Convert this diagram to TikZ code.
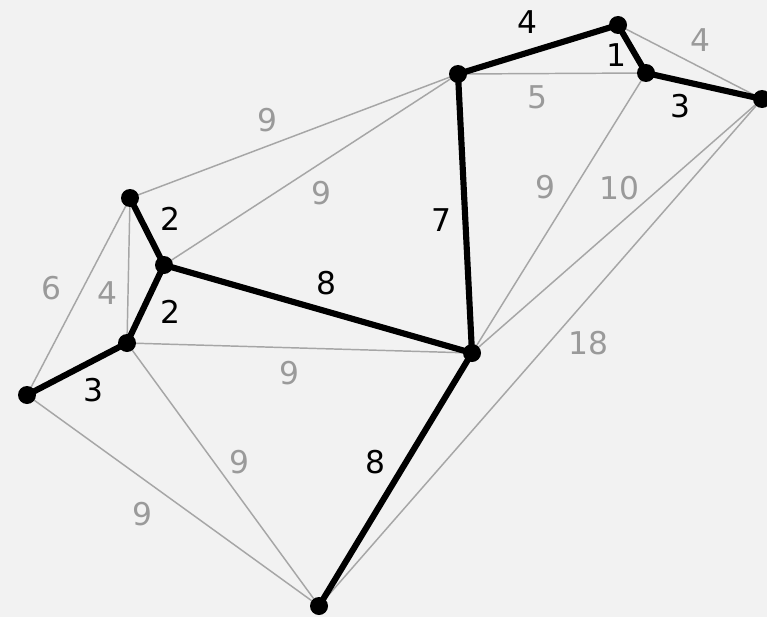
\documentclass[tikz,border=0pt]{standalone}
\usepackage{fontspec}
\setmainfont{DejaVu Sans}
\usetikzlibrary{backgrounds}
\definecolor{bg}{HTML}{F2F2F2}
\definecolor{edgegray}{HTML}{A6A6A6}
\definecolor{labgray}{HTML}{9A9A9A}
\tikzset{
  vert/.style={circle,fill=black,inner sep=0pt,minimum size=13.5pt},
  thin edge/.style={draw=edgegray,line width=1.1pt},
  tree edge/.style={draw=black,line width=4.6pt},
  glab/.style={text=labgray,font=\fontsize{23.5}{28}\selectfont,inner sep=0pt},
  blab/.style={text=black,font=\fontsize{23.5}{28}\selectfont,inner sep=0pt}
}
\begin{document}
\begin{tikzpicture}[x=0.75pt,y=-0.75pt]
\useasboundingbox (0,0) rectangle (767,617);
\clip (0,0) rectangle (767,617);
% vertices
\node[vert] (A) at (130,198) {};
\node[vert] (B) at (164,265) {};
\node[vert] (C) at (127,343) {};
\node[vert] (D) at (27,395) {};
\node[vert] (E) at (458,74) {};
\node[vert] (F) at (618,25) {};
\node[vert] (G) at (646,73) {};
\node[vert] (H) at (762,99) {};
\node[vert] (I) at (472,353) {};
\node[vert] (J) at (319,606) {};
\begin{scope}[on background layer]
\fill[bg] (0,0) rectangle (767,617);
% non-tree edges
\draw[thin edge] (A.center) -- (E.center);
\draw[thin edge] (B.center) -- (E.center);
\draw[thin edge] (A.center) -- (C.center);
\draw[thin edge] (A.center) -- (D.center);
\draw[thin edge] (C.center) -- (I.center);
\draw[thin edge] (C.center) -- (J.center);
\draw[thin edge] (D.center) -- (J.center);
\draw[thin edge] (E.center) -- (G.center);
\draw[thin edge] (F.center) -- (H.center);
\draw[thin edge] (G.center) -- (I.center);
\draw[thin edge] (H.center) -- (I.center);
\draw[thin edge] (H.center) -- (J.center);
% tree edges
\draw[tree edge] (A.center) -- (B.center);
\draw[tree edge] (B.center) -- (C.center);
\draw[tree edge] (C.center) -- (D.center);
\draw[tree edge] (B.center) -- (I.center);
\draw[tree edge] (E.center) -- (I.center);
\draw[tree edge] (I.center) -- (J.center);
\draw[tree edge] (E.center) -- (F.center);
\draw[tree edge] (F.center) -- (G.center);
\draw[tree edge] (G.center) -- (H.center);
\end{scope}
% labels of non-tree edges
\node[glab] (lAE) at (267,120) {9};
\node[glab] (lBE) at (321,193) {9};
\node[glab] (lAC) at (107,293) {4};
\node[glab] (lAD) at (51,288) {6};
\node[glab] (lCI) at (289,373) {9};
\node[glab] (lCJ) at (239,462) {9};
\node[glab] (lDJ) at (142,514) {9};
\node[glab] (lEG) at (537,97) {5};
\node[glab] (lFH) at (700,40) {4};
\node[glab] (lGI) at (545,187) {9};
\node[glab] (lHI) at (619,188) {10};
\node[glab] (lHJ) at (588,343) {18};
% labels of tree edges
\node[blab] (lAB) at (170,219) {2};
\node[blab] (lBC) at (170,312) {2};
\node[blab] (lCD) at (93,390) {3};
\node[blab] (lBI) at (326,283) {8};
\node[blab] (lEI) at (441,220) {7};
\node[blab] (lIJ) at (375,462) {8};
\node[blab] (lEF) at (527,22) {4};
\node[blab] (lFG) at (616,55) {1};
\node[blab] (lGH) at (680,106) {3};
\end{tikzpicture}
\end{document}
